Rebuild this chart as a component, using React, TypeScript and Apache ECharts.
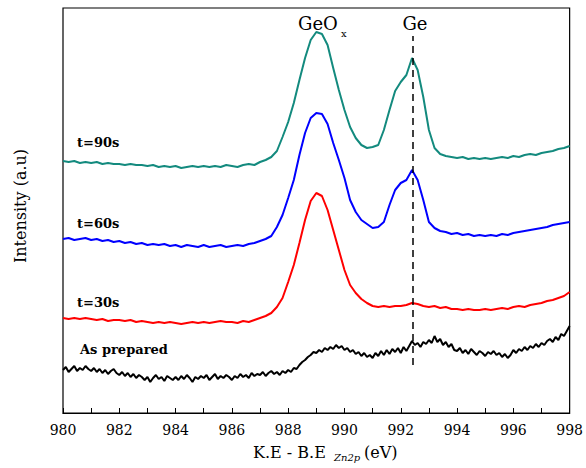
import React, { useEffect, useRef } from "react";
import * as echarts from "echarts";

// Energy axis (K.E - B.E, eV)
const X_MIN = 980;
const X_MAX = 998;
const GE_POSITION = 992.43;

// t=90s (teal), sampled every 0.2 eV from 980 to 998
const t90 = [
  252, 251, 252, 250, 251, 250, 251, 249, 250, 249,
  249, 248, 249, 248, 248, 247, 248, 246, 247, 246,
  247, 245, 246, 247, 246, 247, 246, 247, 246, 248,
  247, 246, 248, 249, 248, 251, 253, 256, 262, 276,
  291, 310, 333, 355, 373, 381, 379, 368, 345, 323,
  303, 286, 275, 268, 265, 266, 268, 283, 303, 322,
  331, 338, 355, 343, 316, 283, 265, 259, 257, 256,
  255, 256, 254, 255, 254, 255, 254, 255, 256, 255,
  257, 256, 258, 259, 258, 260, 261, 262, 264, 265,
  267,
];

// t=60s (blue), every 0.2 eV
const t60 = [
  174, 175, 173, 174, 175, 173, 174, 172, 173, 171,
  172, 170, 171, 169, 170, 168, 169, 168, 169, 167,
  168, 166, 168, 167, 166, 168, 166, 167, 168, 166,
  167, 168, 167, 169, 170, 172, 174, 177, 186, 198,
  215, 233, 258, 280, 295, 300, 299, 289, 270, 253,
  235, 213, 201, 193, 189, 185, 186, 191, 208, 223,
  230, 233, 243, 233, 213, 191, 185, 182, 181, 179,
  180, 178, 179, 177, 178, 177, 178, 177, 179, 178,
  180, 181, 182, 183, 184, 185, 186, 188, 189, 190,
  191,
];

// t=30s (red), every 0.2 eV
const t30 = [
  95, 94, 95, 94, 95, 94, 93, 94, 92, 93,
  93, 92, 93, 91, 92, 91, 90, 91, 90, 91,
  90, 89, 90, 91, 90, 91, 90, 91, 92, 91,
  91, 90, 92, 91, 93, 95, 97, 100, 106, 115,
  131, 148, 170, 193, 212, 220, 217, 203, 183, 163,
  143, 128, 120, 114, 110, 107, 106, 107, 106, 107,
  107, 108, 110, 109, 107, 106, 107, 105, 106, 104,
  104, 103, 104, 103, 103, 104, 103, 104, 105, 104,
  106, 107, 106, 108, 109, 110, 112, 113, 115, 117,
  121,
];

// As prepared (black), every 0.1 eV
const asPrepared = [
  43, 46, 41, 44, 47, 42, 45, 43, 47, 44,
  42, 45, 41, 44, 40, 43, 39, 42, 44, 40,
  38, 41, 37, 40, 36, 39, 35, 38, 36, 33,
  36, 31, 35, 38, 34, 36, 32, 37, 35, 33,
  36, 33, 37, 34, 38, 35, 31, 36, 34, 37,
  35, 38, 33, 36, 39, 34, 37, 35, 38, 36,
  33, 37, 35, 39, 36, 38, 35, 40, 37, 39,
  38, 41, 37, 40, 42, 39, 41, 38, 42, 40,
  43, 41, 45, 44, 48, 51, 53, 56, 58, 61,
  60, 63, 61, 65, 63, 66, 64, 68, 65, 67,
  63, 65, 61, 63, 59, 61, 57, 60, 56, 58,
  55, 60, 57, 62, 58, 63, 59, 64, 61, 65,
  60, 66, 62, 67, 72, 68, 70, 66, 71, 69,
  73, 70, 77, 71, 74, 68, 71, 66, 69, 63,
  62, 65, 60, 63, 59, 64, 61, 58, 62, 60,
  57, 61, 59, 62, 58, 60, 56, 59, 55, 58,
  63, 60, 64, 62, 66, 63, 67, 65, 69, 66,
  70, 68, 72, 74, 71, 76, 73, 79, 77, 82,
  87,
];

const toPairs = (vals: number[], step: number) =>
  vals.map((v, i) => [+(X_MIN + i * step).toFixed(2), v]);

const SERIF = "DejaVu Serif";

export default function App() {
  const ref = useRef<HTMLDivElement>(null);
  useEffect(() => {
    if (!ref.current) return;
    const chart = echarts.init(ref.current, undefined, { renderer: "svg" });
    const mk = (name: string, data: number[], step: number, color: string) => ({
      name,
      type: "line",
      data: toPairs(data, step),
      showSymbol: false,
      symbol: "none",
      lineStyle: { color, width: 2 },
      itemStyle: { color },
    });
    const txt = (
      text: string,
      x: number,
      y: number,
      size: number,
      opts: { weight?: string; style?: string; align?: string } = {}
    ) => ({
      type: "text",
      x,
      y,
      style: {
        text,
        fontFamily: SERIF,
        fontSize: size,
        fontWeight: opts.weight || "normal",
        fontStyle: opts.style || "normal",
        fill: "#000",
        align: opts.align || "left",
        verticalAlign: "middle",
      },
    });
    chart.setOption({
      animation: false,
      grid: {
        left: 63,
        right: 13,
        top: 8,
        bottom: 55,
        show: true,
        borderColor: "#000",
        borderWidth: 1.2,
      },
      xAxis: {
        type: "value",
        min: X_MIN,
        max: X_MAX,
        interval: 1,
        axisLine: { show: true, lineStyle: { color: "#000", width: 1.2 } },
        axisTick: { show: true, inside: true, length: 5, lineStyle: { color: "#000", width: 1 } },
        splitLine: { show: false },
        axisLabel: {
          color: "#000",
          fontFamily: SERIF,
          fontSize: 14,
          margin: 10,
          formatter: (v: number) => (v % 2 === 0 ? String(v) : ""),
        },
      },
      yAxis: {
        type: "value",
        min: 0,
        max: 405,
        show: false,
      },
      series: [
        mk("As prepared", asPrepared, 0.1, "#000000"),
        mk("t=30s", t30, 0.2, "#ff0000"),
        mk("t=60s", t60, 0.2, "#0000ff"),
        {
          ...mk("t=90s", t90, 0.2, "#138a7e"),
          markLine: {
            silent: true,
            symbol: "none",
            label: { show: false },
            lineStyle: { color: "#000", type: [7, 5], width: 1.5 },
            data: [[{ coord: [GE_POSITION, 48] }, { coord: [GE_POSITION, 377] }]],
          },
        },
      ],
      graphic: [
        txt("GeO", 298, 23, 18),
        txt("x", 341, 33, 10),
        txt("Ge", 415, 23, 18, { align: "center" }),
        txt("t=90s", 77, 142, 13, { weight: "bold" }),
        txt("t=60s", 77, 223, 13, { weight: "bold" }),
        txt("t=30s", 77, 302, 13, { weight: "bold" }),
        txt("As prepared", 80, 349, 13, { weight: "bold" }),
        {
          ...txt("Intensity (a.u)", 20, 206, 16, { align: "center" }),
          rotation: Math.PI / 2,
        },
        txt("K.E - B.E", 253, 452, 16),
        txt("Zn2p", 334, 457, 10, { style: "italic" }),
        txt("(eV)", 364, 452, 16),
      ],
    });
    return () => chart.dispose();
  }, []);
  return <div ref={ref} style={{ width: 586, height: 468, position: "absolute", left: 0, top: 0 }} />;
}
